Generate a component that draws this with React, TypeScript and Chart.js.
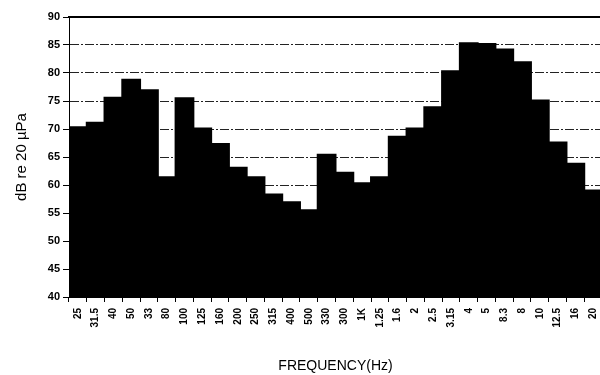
import React, { useEffect, useRef } from "react";
import { Chart, registerables } from "chart.js";

Chart.register(...registerables);

const categories = [
  "25", "31.5", "40", "50", "33", "80", "100", "125", "160", "200",
  "250", "315", "400", "500", "330", "300", "1K", "1.25", "1.6", "2",
  "2.5", "3.15", "4", "5", "8.3", "8", "10", "12.5", "16", "20",
];

const levels = [
  70.3, 71.1, 75.6, 78.8, 76.9, 61.4, 75.5, 70.1, 67.3, 63.1,
  61.4, 58.3, 56.9, 55.5, 65.4, 62.2, 60.3, 61.4, 68.6, 70.1,
  73.9, 80.3, 85.3, 85.2, 84.2, 81.9, 75.1, 67.6, 63.8, 59.0,
];

const yMin = 40;
const yMax = 90;
const yStep = 5;

export default function App() {
  const ref = useRef<HTMLCanvasElement | null>(null);

  useEffect(() => {
    document.body.style.margin = "0";
    const canvas = ref.current;
    if (!canvas) return;
    const chart = new Chart(canvas, {
      type: "bar",
      data: {
        labels: categories,
        datasets: [
          {
            data: levels,
            backgroundColor: "#000",
            borderWidth: 0,
            inflateAmount: 1,
            barPercentage: 1,
            categoryPercentage: 1,
          } as any,
        ],
      },
      options: {
        responsive: false,
        animation: false,
        layout: { padding: { left: 0, top: 17, right: 10, bottom: 0 } },
        plugins: { legend: { display: false }, tooltip: { enabled: false } },
        scales: {
          x: {
            position: "bottom",
            offset: true,
            grid: {
              offset: true,
              drawOnChartArea: false,
              drawTicks: true,
              tickLength: 5,
              tickColor: "#000",
              tickWidth: 1,
            },
            border: { display: true, color: "#000", width: 1 },
            ticks: {
              color: "#000",
              font: { family: "'Liberation Sans', Arial, sans-serif", size: 10, weight: "bold" },
              minRotation: 90,
              maxRotation: 90,
              autoSkip: false,
              padding: 6,
            },
            title: {
              display: true,
              text: "FREQUENCY(Hz)",
              color: "#000",
              font: { family: "'Liberation Sans', Arial, sans-serif", size: 14 },
              padding: { top: 0, bottom: 0 },
            },
            afterFit: (scale: any) => {
              scale.height = 78;
            },
          },
          xTop: {
            position: "top",
            type: "category",
            labels: categories,
            grid: { display: false, drawTicks: false },
            border: { display: true, color: "#000", width: 2 },
            ticks: { display: false },
            afterFit: (scale: any) => {
              scale.height = 0;
            },
          },
          y: {
            min: yMin,
            max: yMax,
            ticks: {
              stepSize: yStep,
              color: "#000",
              padding: 3,
              font: { family: "'Liberation Sans', Arial, sans-serif", size: 11, weight: "bold" },
            },
            grid: {
              color: "#222",
              lineWidth: 1,
              tickLength: 6,
              tickColor: "#000",
              tickWidth: 1,
            },
            border: { display: true, color: "#000", width: 1, dash: [9, 2, 2, 2] },
            title: {
              display: true,
              text: "dB re 20 µPa",
              color: "#000",
              font: { family: "'Liberation Sans', Arial, sans-serif", size: 15 },
              padding: { top: 13, bottom: 0 },
            },
            afterFit: (scale: any) => {
              scale.width = 69;
            },
          },
        },
      },
    });
    return () => chart.destroy();
  }, []);

  return (
    <div style={{ position: "fixed", left: 0, top: 0, width: 600, height: 375, overflow: "hidden", background: "#fff" }}>
      <canvas ref={ref} width={612} height={375} style={{ display: "block", width: 612, height: 375 }} />
    </div>
  );
}
